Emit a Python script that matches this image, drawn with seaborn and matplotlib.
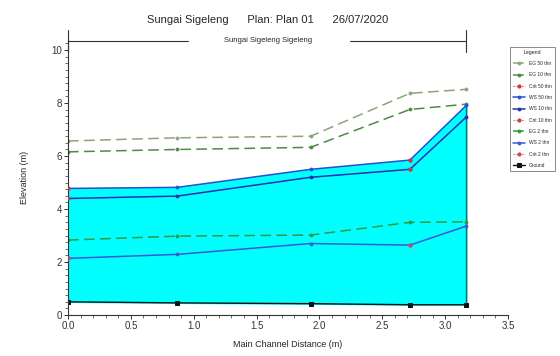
import numpy as np
import pandas as pd
import matplotlib
matplotlib.use("Agg")
import matplotlib.pyplot as plt
from matplotlib.ticker import MultipleLocator
import seaborn as sns

# Data (river stations along main channel)
distance = [0.0, 0.87, 1.93, 2.72, 3.17]
ground = [0.50, 0.46, 0.43, 0.39, 0.39]

ws_50 = [4.78, 4.82, 5.50, 5.85, 7.92]
ws_10 = [4.40, 4.49, 5.20, 5.50, 7.48]
ws_2 = [2.14, 2.29, 2.70, 2.64, 3.36]

eg_50 = [6.57, 6.69, 6.75, 8.37, 8.52]
eg_10 = [6.16, 6.25, 6.33, 7.76, 7.96]
eg_2 = [2.83, 2.98, 3.02, 3.50, 3.52]

crit_50 = [4.78, np.nan, np.nan, 5.85, np.nan]
crit_10 = [4.40, np.nan, np.nan, 5.50, np.nan]
crit_2 = [2.14, np.nan, np.nan, 2.64, np.nan]

legend_labels = ["EG 50 thn", "EG 10 thn", "Crit 50 thn", "WS 50 thn", "WS 10 thn",
                 "Crit 10 thn", "EG 2 thn", "WS 2 thn", "Crit 2 thn", "Ground"]


def setup_style():
    sns.set_theme(style="white")
    plt.rcParams['font.family'] = ['Liberation Sans', 'DejaVu Sans']
    plt.rcParams['axes.edgecolor'] = '#333333'
    plt.rcParams['xtick.color'] = '#333333'
    plt.rcParams['ytick.color'] = '#333333'


setup_style()

df = pd.DataFrame({
    'distance': distance, 'ground': ground,
    'ws_50': ws_50, 'ws_10': ws_10, 'ws_2': ws_2,
    'eg_50': eg_50, 'eg_10': eg_10, 'eg_2': eg_2,
    'crit_50': crit_50, 'crit_10': crit_10, 'crit_2': crit_2,
})

fig = plt.figure(figsize=(5.6, 3.56), dpi=100)
ax = fig.add_axes([0.1214, 0.115, 0.7857, 0.774])

# Water body fill
ax.fill_between(df['distance'], df['ground'], df['ws_50'], color='#00ffff', zorder=1)
ax.plot([distance[-1], distance[-1]], [ground[-1], ws_50[-1]], color='#1a6a6a', lw=1.0, zorder=2)


def line(col, color, label, ls, lw=1.1, marker='o', ms=2.0):
    sns.lineplot(data=df, x='distance', y=col, ax=ax, color=color, label=label,
                 linestyle=ls, lw=lw, marker=marker, markersize=ms,
                 markeredgecolor=color, markerfacecolor=color)


def crit(col, color, label):
    # critical depth only computed at a few stations: markers, no joining line
    ax.plot(df['distance'], df[col], color=color, linestyle=':', lw=0.8, marker='o',
            markersize=2.0, label=label, zorder=4)


dash = (0, (7, 3.5))
line('eg_50', '#8aa57a', legend_labels[0], dash)
line('eg_10', '#4f8a45', legend_labels[1], dash)
crit('crit_50', '#e03030', legend_labels[2])
line('ws_50', '#2a4fd0', legend_labels[3], '-')
line('ws_10', '#2430b0', legend_labels[4], '-')
crit('crit_10', '#c84040', legend_labels[5])
line('eg_2', '#2f9a3a', legend_labels[6], dash)
line('ws_2', '#3a5ad8', legend_labels[7], '-')
crit('crit_2', '#d04848', legend_labels[8])
line('ground', '#111111', legend_labels[9], '-', lw=1.0, marker='s', ms=3.0)

ax.set_xlim(0, 3.5)
ax.set_ylim(0, 10.4)
ax.xaxis.set_major_locator(MultipleLocator(0.5))
ax.xaxis.set_minor_locator(MultipleLocator(0.1))
ax.yaxis.set_major_locator(MultipleLocator(2))
ax.yaxis.set_minor_locator(MultipleLocator(0.25))
ax.xaxis.set_major_formatter(matplotlib.ticker.FormatStrFormatter('%.1f'))
ax.tick_params(axis='both', which='major', direction='out', length=3, width=0.7, labelsize=7, pad=1.5,
               bottom=True, left=True)
ax.tick_params(axis='both', which='minor', direction='out', length=2, width=0.5, bottom=True, left=True)
sns.despine(ax=ax)
for s in ['left', 'bottom']:
    ax.spines[s].set_linewidth(0.8)

ax.set_xlabel('Main Channel Distance (m)', fontsize=6.5, labelpad=6)
ax.set_ylabel('Elevation (m)', fontsize=6.5, labelpad=16)

# Title and reach bar
fig.text(0.478, 0.945, 'Sungai Sigeleng      Plan: Plan 01      26/07/2020', ha='center', va='center', fontsize=8)
bar_y = 0.885
fig.text(0.478, bar_y, 'Sungai Sigeleng Sigeleng', ha='center', va='center', fontsize=5.5)
x0 = ax.transData.transform((0, 0))[0] / fig.bbox.width
x1 = ax.transData.transform((distance[-1], 0))[0] / fig.bbox.width
fig.add_artist(plt.Line2D([x0, 0.335], [bar_y, bar_y], color='#333333', lw=0.8))
fig.add_artist(plt.Line2D([0.625, x1], [bar_y, bar_y], color='#333333', lw=0.8))
fig.add_artist(plt.Line2D([x0, x0], [bar_y - 0.03, bar_y + 0.03], color='#333333', lw=0.8))
fig.add_artist(plt.Line2D([x1, x1], [bar_y - 0.03, bar_y + 0.03], color='#333333', lw=0.8))

leg = ax.legend(loc='upper left', bbox_to_anchor=(0.906, 0.875), bbox_transform=fig.transFigure,
                fontsize=3.5, title='Legend', title_fontsize=3.8, frameon=True, fancybox=False,
                handlelength=2.6, borderpad=0.6, labelspacing=1.3, edgecolor='#555555')
leg.get_frame().set_linewidth(0.6)

fig.savefig('out.png', dpi=100)
